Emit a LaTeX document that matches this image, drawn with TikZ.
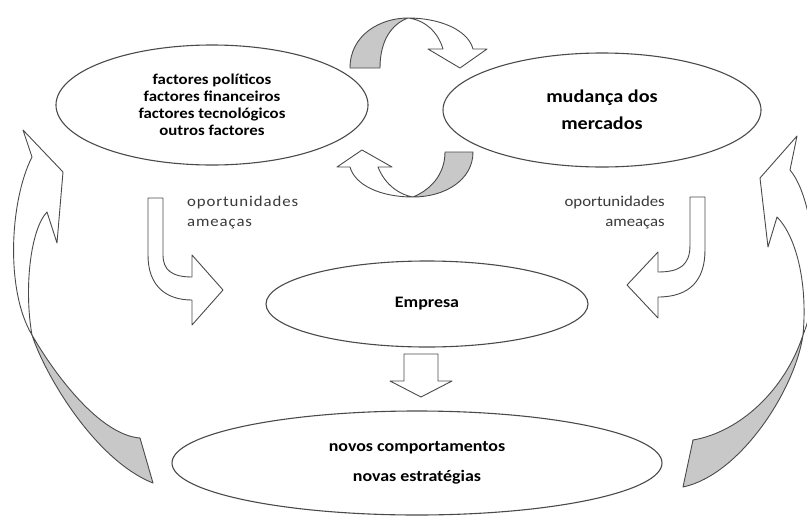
\documentclass[tikz,border=0pt]{standalone}
\usepackage{fontspec}
\setmainfont{Carlito}
\newfontfamily\wfont[FakeStretch=1.12]{Carlito}
\usetikzlibrary{shapes.geometric}
\definecolor{edgecol}{HTML}{4A4A4A}
\definecolor{bandcol}{HTML}{C8C8C8}
\definecolor{lblcol}{HTML}{3A3A3A}
\tikzset{
  bubble/.style={ellipse, draw=edgecol, line width=1.1pt, fill=white, inner sep=0pt, align=center, text=black},
  blockarrow/.style={draw=edgecol, line width=0.9pt, fill=white, line join=round},
  twistband/.style={draw=edgecol, line width=0.9pt, fill=bandcol, line join=round},
  lbltext/.style={text=lblcol, inner sep=0pt, font=\wfont\fontsize{15}{20}\selectfont}
}
\begin{document}
\begin{tikzpicture}[x=1pt, y=-1pt]
\fill[white] (0,0) rectangle (807,517);
\clip (0,0) rectangle (807,517);
\useasboundingbox (0,0) rectangle (807,517);

% ellipses
\node[bubble, minimum width=312pt, minimum height=120pt,
      font=\wfont\bfseries\fontsize{15}{17}\selectfont] (fac) at (212,105)
  {factores políticos\\factores financeiros\\factores tecnológicos\\outros factores};
\node[bubble, minimum width=318pt, minimum height=114pt,
      font=\wfont\bfseries\fontsize{18}{27}\selectfont] (mer) at (602,110)
  {mudança dos\\mercados};
\node[bubble, minimum width=322pt, minimum height=86pt,
      font=\wfont\bfseries\fontsize{16}{20}\selectfont] (emp) at (427,304)
  {Empresa};
\node[bubble, minimum width=490pt, minimum height=104pt,
      font=\wfont\bfseries\fontsize{16}{30}\selectfont] (nov) at (417,463)
  {novos comportamentos\\novas estratégias};

% labels
\node[lbltext, anchor=west, align=left, font=\wfont\fontsize{15}{20}\selectfont\addfontfeature{LetterSpace=6.0}] (lblL) at (187,213) {oportunidades\\ameaças};
\node[lbltext, anchor=east, align=right] (lblR) at (665,213) {oportunidades\\ameaças};

% top centre twisted arrow
\draw[twistband] (350,68) -- (380,68) .. controls (380,40) and (392,24) .. (408,18)
   .. controls (380,18) and (350,35) .. (350,68) -- cycle;
\draw[blockarrow] (408,18) .. controls (440,18) and (468,30) .. (473,49)
   -- (487,49) -- (460,68) -- (428,49) -- (443,49)
   .. controls (438,32) and (425,20) .. (408,18) -- cycle;

% bottom centre twisted arrow
\draw[twistband] (445,152) -- (473,152) .. controls (473,180) and (445,197) .. (413,197)
   .. controls (430,190) and (445,175) .. (445,152) -- cycle;
\draw[blockarrow] (413,197) .. controls (380,197) and (355,185) .. (350,167)
   -- (337,167) -- (362,150) -- (392,167) -- (378,167)
   .. controls (385,185) and (400,195) .. (413,197) -- cycle;

% left bent arrow
\draw[blockarrow] (148,198) -- (163,198) -- (163,255)
   .. controls (163,270) and (172,277) .. (192,277)
   -- (192,255) -- (223,290) -- (192,325) -- (192,300)
   .. controls (165,300) and (148,285) .. (148,255) -- cycle;

% right bent arrow
\draw[blockarrow] (690,197) -- (705,197) -- (705,250)
   .. controls (705,280) and (690,297) .. (658,297)
   -- (658,318) -- (627,285) -- (658,252) -- (658,272)
   .. controls (680,272) and (690,265) .. (690,245) -- cycle;

% down arrow
\draw[blockarrow] (404,354) -- (438,354) -- (438,381) -- (452,381) -- (421,397)
   -- (390,381) -- (404,381) -- cycle;

% big left arrow
\draw[blockarrow] (23,130) -- (63,172) -- (57,243) -- (47,212)
   .. controls (30,230) and (24,290) .. (32,335)
   .. controls (5,290) and (10,200) .. (32,157) -- cycle;
\draw[twistband] (32,335) .. controls (45,375) and (95,460) .. (153,483)
   -- (140,438) .. controls (100,435) and (55,375) .. (32,335) -- cycle;

% big right arrow
\draw[blockarrow] (797,136) -- (760,178) -- (768,247) -- (777,217)
   .. controls (795,235) and (808,280) .. (803,335)
   .. controls (822,290) and (815,200) .. (790,170) -- cycle;
\draw[twistband] (803,335) .. controls (795,390) and (740,475) .. (683,487)
   -- (693,440) .. controls (740,432) and (785,390) .. (803,335) -- cycle;
\end{tikzpicture}
\end{document}
